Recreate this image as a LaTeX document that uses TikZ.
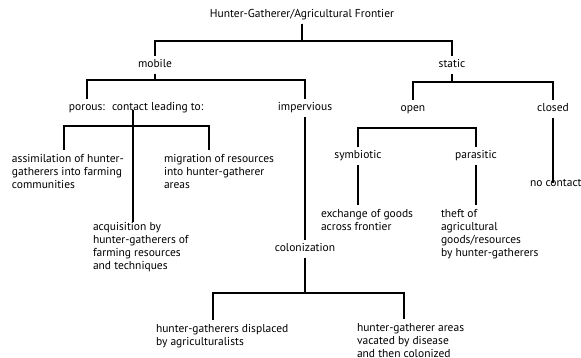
\documentclass[tikz,border=0pt]{standalone}
\usepackage{fontspec}
\setmainfont{PT Sans}
\begin{document}
\begin{tikzpicture}[x=1pt,y=-1pt,
  lbl/.style={inner sep=0pt, outer sep=3.5pt, text height=8pt, text depth=2.5pt, font=\fontsize{11.5}{13}\selectfont},
  blk/.style={inner sep=0pt, outer sep=4pt, align=left, anchor=north west, font=\fontsize{11.5}{13}\selectfont},
  ln/.style={line width=1.6pt}]
\useasboundingbox (0,0) rectangle (581,358);
% labels
\node[lbl] (title) at (302,15) {Hunter-Gatherer/Agricultural Frontier};
\node[lbl] (mobile) at (155,65) {mobile};
\node[lbl] (static) at (452,65) {static};
\node[lbl] (porous) at (87,108) {porous:};
\node[lbl, anchor=west, outer sep=0pt] (contact) at (112,108) {contact leading to:};
\node[lbl] (imperv) at (305,108) {impervious};
\node[lbl] (open) at (413,109) {open};
\node[lbl] (closed) at (553,109) {closed};
\node[lbl] (symb) at (358,156) {symbiotic};
\node[lbl] (paras) at (476,156) {parasitic};
\node[lbl] (colon) at (305,249) {colonization};
\node[lbl, anchor=west, outer sep=0pt] (nocon) at (530,184) {no contact};
\node[blk] (assim) at (8,150) {assimilation of hunter-\\gatherers into farming\\communities};
\node[blk] (migr) at (160,150) {migration of resources\\into hunter-gatherer\\areas};
\node[blk] (acq) at (89,218) {acquisition by\\hunter-gatherers of\\farming resources\\and techniques};
\node[blk] (exch) at (317,205) {exchange of goods\\across frontier};
\node[blk] (theft) at (437,205) {theft of\\agricultural\\goods/resources\\by hunter-gatherers};
\node[blk] (displ) at (152,320) {hunter-gatherers displaced\\by agriculturalists};
\node[blk] (vac) at (353,319) {hunter-gatherer areas\\vacated by disease\\and then colonized};
% bar levels
\coordinate (b1) at (0,41);
\coordinate (b2) at (0,80);
\coordinate (b3) at (0,126);
\coordinate (b4) at (0,293);
\coordinate (b5) at (0,82);
\coordinate (b6) at (0,128);
\coordinate (cs) at (133,0);
\coordinate (da) at ([xshift=56pt]assim.north west);
\coordinate (dm) at ([xshift=49pt]migr.north west);
\coordinate (dd) at ([xshift=61pt]displ.north west);
\coordinate (dv) at ([xshift=51pt]vac.north west);
% connectors
\draw[ln] (title.south) -- (title.south |- b1);
\draw[ln] (mobile.north) -- (mobile.north |- b1) -- (static.north |- b1) -- (static.north);
\draw[ln] (mobile.south) -- (mobile.south |- b2);
\draw[ln] (porous.north) -- (porous.north |- b2) -- (imperv.north |- b2) -- (imperv.north);
\draw[ln] ([yshift=3pt]contact.south -| cs) -- ([yshift=-4pt]acq.north -| cs);
\draw[ln] (da) -- (da |- b3) -- (dm |- b3) -- (dm);
\draw[ln] (imperv.south) -- (colon.north);
\draw[ln] (colon.south) -- (colon.south |- b4);
\draw[ln] (dd) -- (dd |- b4) -- (dv |- b4) -- (dv);
\draw[ln] (static.south) -- (static.south |- b5);
\draw[ln] (open.north) -- (open.north |- b5) -- (closed.north |- b5) -- (closed.north);
\draw[ln] (symb.north) -- (symb.north |- b6) -- (paras.north |- b6) -- (paras.north);
\draw[ln] (symb.south) -- (symb.south |- exch.north);
\draw[ln] (paras.south) -- (paras.south |- theft.north);
\draw[ln] (closed.south) -- ([yshift=-4pt]closed.south |- nocon.north);
\end{tikzpicture}
\end{document}
